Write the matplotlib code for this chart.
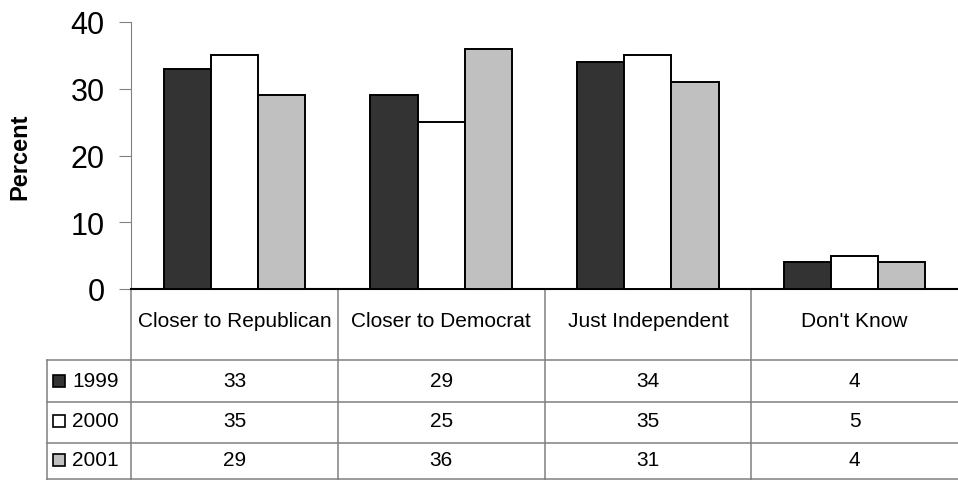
import numpy as np
import matplotlib.pyplot as plt
from matplotlib.transforms import blended_transform_factory

plt.rcParams['font.family'] = ['Liberation Sans', 'DejaVu Sans']

categories = ['Closer to Republican', 'Closer to Democrat', 'Just Independent', "Don't Know"]
years = ['1999', '2000', '2001']
v1999 = [33, 29, 34, 4]
v2000 = [35, 25, 35, 5]
v2001 = [29, 36, 31, 4]
series = [v1999, v2000, v2001]
colors = ['#333333', '#ffffff', '#c0c0c0']

W, H = 958, 481
fig = plt.figure(figsize=(W / 100, H / 100), dpi=100)
ax = fig.add_axes([131 / W, 191 / H, (958 - 131) / W, (290 - 23) / H])

x = np.arange(len(categories))
bw = 0.228
for i, vals in enumerate(series):
    ax.bar(x + (i - 1) * bw, vals, bw, color=colors[i], edgecolor='black', linewidth=1.4, zorder=3)

ax.set_xlim(-0.5, len(categories) - 0.5)
ax.set_ylim(0, 40)
ax.set_yticks([0, 10, 20, 30, 40])
ax.tick_params(axis='y', labelsize=22, length=9, color='#808080', pad=10)
ax.set_xticks([])
for s in ['top', 'right']:
    ax.spines[s].set_visible(False)
ax.spines['left'].set_color('#808080')
ax.spines['bottom'].set_linewidth(1.5)
ax.set_ylabel('Percent', fontsize=17, fontweight='bold', labelpad=28)

# data table below the plot, in figure pixels vertically
tr = blended_transform_factory(ax.transData, fig.transFigure)
def fy(py):
    return (H - py) / H

lc = '#808080'
edges = np.arange(len(categories)) - 0.5
for e in edges:
    ax.plot([e, e], [fy(290), fy(481)], transform=tr, color=lc, lw=1.1, clip_on=False)
row_lines = [361, 403, 444, 480]
for ry in row_lines:
    fig.add_artist(plt.Line2D([47 / W, 958 / W], [fy(ry), fy(ry)], color=lc, lw=1.1))
fig.add_artist(plt.Line2D([47 / W, 47 / W], [fy(361), fy(481)], color=lc, lw=1.1))

fs = 15
for i, c in enumerate(categories):
    ax.text(i, fy(322), c, transform=tr, ha='center', va='center', fontsize=fs)

row_centers = [382, 422, 461]
for r, vals in enumerate(series):
    yc = fy(row_centers[r])
    fig.add_artist(plt.Rectangle((53 / W, (H - row_centers[r] - 6) / H), 12 / W, 12 / H,
                                 facecolor=colors[r], edgecolor='black', lw=1.2))
    fig.text(72 / W, yc, years[r], ha='left', va='center', fontsize=fs)
    for i, v in enumerate(vals):
        ax.text(i, yc, str(v), transform=tr, ha='center', va='center', fontsize=fs)

fig.savefig('out.png', dpi=100)
